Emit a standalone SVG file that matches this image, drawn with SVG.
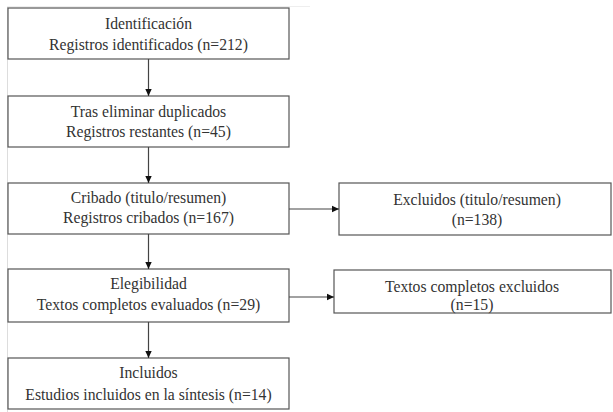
<svg xmlns="http://www.w3.org/2000/svg" width="613" height="412" viewBox="0 0 613 412">
<style>
.box{fill:#fff;stroke:#555;stroke-width:1.2}
.t{font-family:"Liberation Serif","Times New Roman",serif;font-size:15.7px;fill:#333;text-anchor:middle}
.c{stroke:#444;stroke-width:1.2;fill:none}
</style>
<defs>
<marker id="ah" markerWidth="8" markerHeight="8" refX="7" refY="4" orient="auto" markerUnits="userSpaceOnUse">
<path d="M0,0.8 L7,4 L0,7.2 Z" fill="#111"/>
</marker>
</defs>
<rect width="613" height="412" fill="#fff"/>
<line x1="7.5" y1="6" x2="7.5" y2="412" stroke="#ddd" stroke-width="1"/>
<line x1="7" y1="6.5" x2="310" y2="6.5" stroke="#eee" stroke-width="1"/>
<g id="n1"><rect class="box" x="8" y="8" width="281" height="51"/>
<text class="t" x="148.5" y="29">Identificación</text><text class="t" x="148.5" y="50">Registros identificados (n=212)</text></g>
<g id="n2"><rect class="box" x="8" y="96" width="281" height="51"/>
<text class="t" x="148.5" y="117">Tras eliminar duplicados</text><text class="t" x="148.5" y="137">Registros restantes (n=45)</text></g>
<g id="n3"><rect class="box" x="8" y="183" width="281" height="51"/>
<text class="t" x="148.5" y="203">Cribado (titulo/resumen)</text><text class="t" x="148.5" y="223">Registros cribados (n=167)</text></g>
<g id="n4"><rect class="box" x="8" y="269" width="281" height="53"/>
<text class="t" x="148.5" y="289">Elegibilidad</text><text class="t" x="148.5" y="310">Textos completos evaluados (n=29)</text></g>
<g id="n5"><rect class="box" x="8" y="358" width="281" height="51"/>
<text class="t" x="148.5" y="378">Incluidos</text><text class="t" x="148.5" y="400">Estudios incluidos en la síntesis (n=14)</text></g>
<g id="n6"><rect class="box" x="339" y="183" width="272" height="52"/>
<text class="t" x="477" y="205">Excluidos (titulo/resumen)</text><text class="t" x="477" y="225">(n=138)</text></g>
<g id="n7"><rect class="box" x="334" y="270" width="277" height="43"/>
<text class="t" x="472" y="292">Textos completos excluidos</text><text class="t" x="472" y="310">(n=15)</text></g>
<g id="connectors">
<line class="c" x1="148.5" y1="59" x2="148.5" y2="96" marker-end="url(#ah)"/>
<line class="c" x1="148.5" y1="147" x2="148.5" y2="183" marker-end="url(#ah)"/>
<line class="c" x1="148.5" y1="234" x2="148.5" y2="269" marker-end="url(#ah)"/>
<line class="c" x1="148.5" y1="322" x2="148.5" y2="358" marker-end="url(#ah)"/>
<line class="c" x1="289" y1="209" x2="339" y2="209" marker-end="url(#ah)"/>
<line class="c" x1="289" y1="297" x2="334" y2="297" marker-end="url(#ah)"/>
</g>
</svg>
